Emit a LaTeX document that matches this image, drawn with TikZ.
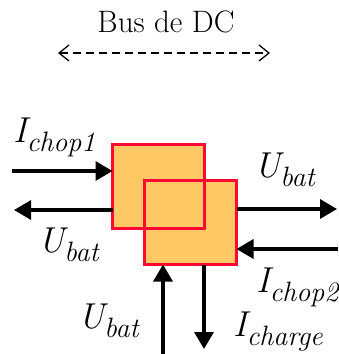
\documentclass[tikz,border=0pt]{standalone}
\usetikzlibrary{arrows.meta}
\definecolor{boxfill}{RGB}{254,200,100}
\definecolor{boxline}{RGB}{255,8,52}
% italic quantity with a lowered, smaller index
\newcommand\sig[2]{\textit{#1\raisebox{-0.26em}{\fontsize{28}{28}\selectfont #2}}}
\begin{document}
\begin{tikzpicture}[x=1pt,y=-1pt,
  flow/.style={line width=3.3pt,-{Triangle[length=17pt,width=19pt]}},
  lbl/.style={anchor=base west,inner sep=0pt,font=\fontsize{36}{36}\selectfont},
  conv/.style={fill=boxfill,outer sep=0pt,minimum width=92pt,minimum height=84pt,inner sep=0pt},
  rim/.style={draw=boxline,line width=3pt}]
\useasboundingbox (0,0) rectangle (338,354);

% DC bus
\node[anchor=base,inner sep=0pt,font=\fontsize{31}{31}\selectfont] (bus) at (166,32) {Bus de DC};
\coordinate (bl) at (58,53);
\coordinate (br) at (270,53);
\draw[line width=1.3pt,dash pattern=on 8pt off 5pt,
  {Straight Barb[length=10pt,width=16pt]}-{Straight Barb[length=10pt,width=16pt]}] (bl) -- (br);

% two converters
\node[conv] (c1) at (158.5,186.5) {};
\node[conv,rim] (c2) at (190.5,222.5) {};
\draw[rim] (c1.south west) rectangle (c1.north east);

% signal flows
\coordinate (a1) at (12,171);
\draw[flow] (a1) -- (a1 -| c1.west);
\coordinate (ubL) at (14,210);
\draw[flow] (ubL -| c1.west) -- (ubL);
\coordinate (ubR) at (337,209);
\draw[flow] (ubR -| c2.east) -- (ubR);
\coordinate (ic2) at (338,249);
\draw[flow] (ic2) -- (ic2 -| c2.east);
\coordinate (ubB) at (163,354);
\draw[flow] (ubB) -- (ubB |- c2.south);
\coordinate (ich) at (204,349);
\draw[flow] (ich |- c2.south) -- (ich);

% labels
\node[lbl] (l1) at (13,142) {\sig{I}{chop1}};
\node[lbl] (l2) at (254,177) {\sig{U}{bat}};
\node[lbl] (l3) at (38,252) {\sig{U}{bat}};
\node[lbl] (l4) at (256,292) {\sig{I}{chop2}};
\node[lbl] (l5) at (78,328) {\sig{U}{bat}};
\node[lbl] (l6) at (233,336) {\sig{I}{charge}};
\end{tikzpicture}
\end{document}
